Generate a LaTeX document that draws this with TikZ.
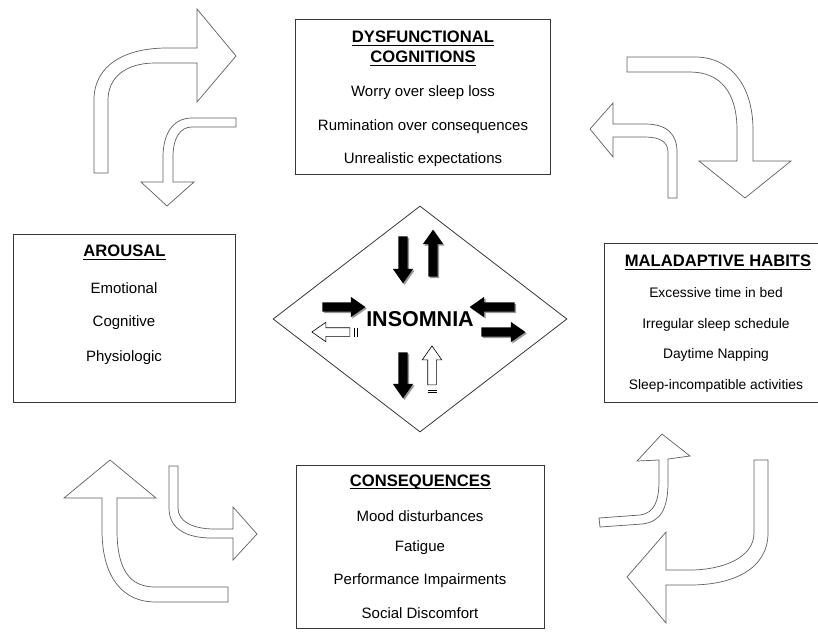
\documentclass[tikz,border=0pt]{standalone}
\usepackage{fontspec}
\setmainfont{Liberation Sans}
\usepackage{tikz}
\usetikzlibrary{shapes.geometric,shapes.arrows,shadows}
\definecolor{framegray}{RGB}{55,55,55}
\definecolor{outlinegray}{RGB}{95,95,95}
\definecolor{shadowgray}{RGB}{150,150,150}

\tikzset{
  panel/.style={draw=framegray, line width=0.9pt, fill=white, inner sep=0pt},
  headtext/.style={font=\fontsize{16.6}{19}\selectfont\bfseries, inner sep=0pt},
  smalltext/.style={font=\fontsize{13.8}{16}\selectfont},
  bendarrow/.style={draw=outlinegray, line width=0.7pt, fill=white, line join=miter},
  solidarrow/.style={single arrow, fill=black, draw=none, inner sep=4.5pt,
    single arrow head extend=5.5pt, single arrow tip angle=70,
    drop shadow={shadow xshift=1.5pt, shadow yshift=-1.5pt, fill=shadowgray, opacity=1}},
  hollowarrow/.style={single arrow, fill=white, draw=black, line width=0.6pt, inner sep=4pt,
    single arrow head extend=5.5pt, single arrow tip angle=70}
}

\begin{document}
\begin{tikzpicture}[x=1pt, y=-1pt, every node/.style={font=\fontsize{15}{17}\selectfont}]
  \useasboundingbox (0,0) rectangle (818,633);

  % curved block arrows, top left
  \draw[bendarrow] (94,173) -- (94,100) .. controls (94,65) and (125,48) .. (167,48)
    -- (197,48) -- (197,9) -- (236,56) -- (197,102) -- (197,63) -- (155,63)
    .. controls (125,63) and (108,78) .. (108,100) -- (108,173) -- cycle;
  \draw[bendarrow] (236,118) -- (192,118) .. controls (172,118) and (163,135) .. (163,157)
    -- (163,182) -- (141,182) -- (167,206) -- (194,182) -- (173,182) -- (173,157)
    .. controls (173,138) and (180,127) .. (192,127) -- (236,127) -- cycle;

  % top right
  \draw[bendarrow] (627,57) -- (695,57) .. controls (730,57) and (753,85) .. (753,130)
    -- (753,161) -- (791,161) -- (745,198) -- (699,161) -- (737,161) -- (737,130)
    .. controls (737,92) and (720,72) .. (690,72) -- (627,72) -- cycle;
  \draw[bendarrow] (668,198) -- (668,152) .. controls (668,142) and (660,137) .. (645,137)
    -- (613,137) -- (613,157) -- (590,129) -- (613,103) -- (613,124) -- (645,124)
    .. controls (668,124) and (677,135) .. (677,152) -- (677,198) -- cycle;

  % bottom left
  \draw[bendarrow] (228,587) -- (155,587) .. controls (130,587) and (117,570) .. (117,530)
    -- (117,498) -- (156,498) -- (110,460) -- (64,498) -- (102,498) -- (102,530)
    .. controls (102,580) and (125,602) .. (155,602) -- (228,602) -- cycle;
  \draw[bendarrow] (169,466) -- (169,508) .. controls (169,528) and (185,538) .. (212,538)
    -- (233,538) -- (233,560) -- (257,534) -- (233,507) -- (233,529) -- (215,529)
    .. controls (190,529) and (178,520) .. (178,508) -- (178,466) -- cycle;

  % bottom right
  \draw[bendarrow] (599,518) -- (640,515) .. controls (655,513) and (659,500) .. (659,480)
    -- (659,460) -- (637,461) -- (662,434) -- (690,456) -- (668,459) -- (668,482)
    .. controls (668,510) and (660,522) .. (642,524) -- (600,527) -- cycle;
  \draw[bendarrow] (754,460) -- (754,533) .. controls (754,558) and (722,570) .. (690,570)
    -- (666,570) -- (666,532) -- (627,577) -- (666,623) -- (666,585) -- (690,585)
    .. controls (735,585) and (768,568) .. (768,533) -- (768,460) -- cycle;

  % boxes
  \node[panel, minimum width=255pt, minimum height=155pt] (cog) at (422.5,96.5) {};
  \node[panel, minimum width=222pt, minimum height=168pt] (arousal) at (124,318) {};
  \node[panel, minimum width=224pt, minimum height=159pt] (habits) at (716,322.5) {};
  \node[panel, minimum width=248pt, minimum height=163pt] (conseq) at (420,546.5) {};

  \node[headtext] (cog-h1) at (423,37) {DYSFUNCTIONAL};
  \node[headtext] (cog-h2) at (423,57) {COGNITIONS};
  \node[headtext] (arousal-h) at (124.5,251) {AROUSAL};
  \node[headtext] (habits-h) at (718,261) {MALADAPTIVE HABITS};
  \node[headtext] (conseq-h) at (420.5,482) {CONSEQUENCES};
  \foreach \h in {cog-h1,cog-h2,arousal-h,habits-h,conseq-h}
    \draw[line width=1.1pt] ([yshift=-2.5pt]\h.base west) -- ([yshift=-2.5pt]\h.base east);

  \foreach \ty/\txt [count=\i] in {93/Worry over sleep loss, 127/Rumination over consequences,
      160/Unrealistic expectations}
    \node (cog-\i) at (423,\ty) {\txt};
  \foreach \ty/\txt [count=\i] in {288/Emotional, 323/Cognitive, 358/Physiologic}
    \node (arousal-\i) at (124,\ty) {\txt};
  \foreach \ty/\txt [count=\i] in {293/Excessive time in bed, 325/Irregular sleep schedule,
      355/Daytime Napping, 386/Sleep-incompatible activities}
    \node[smalltext] (habits-\i) at (716,\ty) {\txt};
  \foreach \ty/\txt [count=\i] in {516/Mood disturbances, 548/Fatigue,
      581/Performance Impairments, 613/Social Discomfort}
    \node (conseq-\i) at (420,\ty) {\txt};

  % center
  \node[diamond, draw=framegray, line width=0.8pt, minimum width=294pt, minimum height=226pt,
    inner sep=0pt, font=\fontsize{21.5}{24}\selectfont\bfseries] (core) at (420,319) {INSOMNIA};

  \foreach \px/\py/\ang/\len [count=\i] in {403/256.5/-90/47, 433/256.5/90/47, 340.5/307/0/43,
      495.5/307/180/45, 500/332/0/44, 403/372/-90/46}
    \node[solidarrow, rotate=\ang, minimum height=\len pt] (pulse-\i) at (\px,\py) {};

  \node[hollowarrow, rotate=180, minimum height=38pt] (back-1) at (334,332) {};
  \foreach \sx in {354.8,357}
    \draw[line width=0.8pt] (\sx,327.5) -- (\sx,336.5);
  \node[hollowarrow, rotate=90, minimum height=39pt] (back-2) at (432,368.5) {};
  \foreach \sy in {390,392.2}
    \draw[line width=0.8pt] (427.5,\sy) -- (436.5,\sy);
\end{tikzpicture}
\end{document}
